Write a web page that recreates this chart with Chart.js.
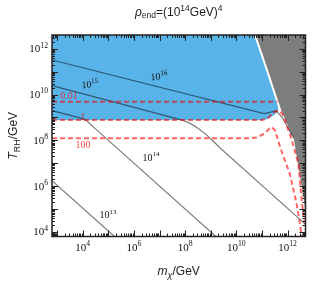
<!DOCTYPE html>
<html>
<head>
<meta charset="utf-8">
<script src="https://cdn.jsdelivr.net/npm/chart.js@4.4.1/dist/chart.umd.min.js"></script>
<style>
  html, body { margin: 0; padding: 0; background: #fff; }
</style>
</head>
<body>
<canvas id="myChart" width="312" height="283"></canvas>
<script>
// everything below is log10 of GeV
var xRange = [2.8, 12.7];
var yRange = [3.8, 12.6];
var xTickExp = [4, 6, 8, 10, 12];
var yTickExp = [4, 6, 8, 10, 12];

// excluded (gray) region edge and blue region lower edge
var grayEdgeM = [10.73, 11.2, 11.71, 12.21, 12.6, 12.7];
var grayEdgeT = [12.6, 11.05, 9.32, 8.01, 5.4, 4.5];
var blueEdgeM = [2.8, 11.0, 11.2, 11.45, 11.6, 11.66, 11.72];
var blueEdgeT = [8.89, 8.89, 8.92, 9.08, 9.25, 9.45, 9.8];

// contours (solid)
var c16M = [2.8, 11.08, 11.55, 11.78, 12.21];
var c16T = [11.51, 9.17, 9.28, 9.02, 8.15];
var c15M = [2.8, 7.92, 8.2, 8.5, 8.8, 9.1, 9.43, 12.7];
var c15T = [10.39, 8.87, 8.74, 8.53, 8.27, 7.96, 7.6, 4.33];
var c14M = [2.8, 3.97, 4.15, 4.3, 4.5, 9.2];
var c14T = [9.30, 8.96, 8.86, 8.7, 8.5, 3.8];
var c13M = [2.8, 5.24];
var c13T = [6.24, 3.8];

// dashed curves
var r001M = [2.8, 11.6];
var r001T = [9.69, 9.69];
var r1M = [2.8, 11.0, 11.2, 11.4, 11.55, 11.68, 11.8, 11.9, 12.16, 12.42, 12.55, 12.65];
var r1T = [8.89, 8.89, 8.94, 9.15, 9.28, 9.3, 9.15, 8.89, 8.02, 7.01, 5.4, 4.4];
var r100M = [2.8, 10.53, 10.8, 11.1, 11.3, 11.38, 11.5, 11.71, 12.1, 12.36, 12.49, 12.55];
var r100T = [8.09, 8.09, 8.12, 8.3, 8.52, 8.58, 8.45, 7.71, 6.49, 5.18, 4.3, 3.8];

// in-plot labels
var contourExp = [16, 15, 14, 13];
var contourLabM = [6.98, 4.28, 6.67, 4.99];
var contourLabT = [10.81, 10.46, 7.27, 4.74];
var ratioText = ['0.01', '1', '100'];
var ratioLabM = [3.46, 4.0, 4.01];
var ratioLabT = [9.94, 9.03, 7.8];

function pts(lm, lt) {
  return lm.map(function (m, i) { return { x: Math.pow(10, m), y: Math.pow(10, lt[i]) }; });
}

var RED = 'rgba(255,0,0,0.6)';
var LINE = 'rgba(0,0,0,0.5)';
var SERIF = '"Liberation Serif"';
var SANS = '"Liberation Sans"';

function drawRuns(ctx, runs, x, y, align) {
  var w = 0;
  runs.forEach(function (r) { ctx.font = r[1]; w += ctx.measureText(r[0]).width; });
  var cx = align === 'center' ? x - w / 2 : (align === 'right' ? x - w : x);
  runs.forEach(function (r) {
    ctx.font = r[1];
    ctx.fillText(r[0], cx, y + r[2]);
    cx += ctx.measureText(r[0]).width;
  });
}

function powRuns(e, size) {
  return [['10', size + 'px ' + SERIF, 0], [String(e), (size * 0.7) + 'px ' + SERIF, -size * 0.42]];
}

var axesPlugin = {
  id: 'axesPlugin',
  afterDraw: function (chart) {
    var ctx = chart.ctx, a = chart.chartArea;
    var xs = chart.scales.x, ys = chart.scales.y;
    ctx.save();
    ctx.textAlign = 'left';
    ctx.textBaseline = 'alphabetic';

    // inward ticks on all four sides
    ctx.strokeStyle = '#222';
    ctx.lineWidth = 1;
    ctx.beginPath();
    for (var n = Math.floor(xRange[0]); n <= Math.ceil(xRange[1]); n++) {
      for (var k = 1; k <= 9; k++) {
        var lv = n + Math.log10(k);
        if (lv < xRange[0] || lv > xRange[1]) continue;
        var px = Math.round(xs.getPixelForValue(Math.pow(10, lv))) + 0.5;
        var len = k === 1 ? 6 : 3;
        ctx.moveTo(px, a.bottom); ctx.lineTo(px, a.bottom - len);
        ctx.moveTo(px, a.top); ctx.lineTo(px, a.top + len);
      }
    }
    for (n = Math.floor(yRange[0]); n <= Math.ceil(yRange[1]); n++) {
      for (k = 1; k <= 9; k++) {
        lv = n + Math.log10(k);
        if (lv < yRange[0] || lv > yRange[1]) continue;
        var py = Math.round(ys.getPixelForValue(Math.pow(10, lv))) + 0.5;
        len = k === 1 ? 6 : 3;
        ctx.moveTo(a.left, py); ctx.lineTo(a.left + len, py);
        ctx.moveTo(a.right, py); ctx.lineTo(a.right - len, py);
      }
    }
    ctx.stroke();

    ctx.lineWidth = 1.5;
    ctx.strokeRect(a.left, a.top, a.right - a.left, a.bottom - a.top);

    // tick labels
    ctx.fillStyle = '#111';
    xTickExp.forEach(function (e) {
      drawRuns(ctx, powRuns(e, 11), xs.getPixelForValue(Math.pow(10, e)), a.bottom + 14, 'center');
    });
    yTickExp.forEach(function (e) {
      drawRuns(ctx, powRuns(e, 11), a.left - 4, ys.getPixelForValue(Math.pow(10, e)) + 3.5, 'right');
    });

    // contour labels
    contourExp.forEach(function (e, i) {
      var x = xs.getPixelForValue(Math.pow(10, contourLabM[i]));
      var y = ys.getPixelForValue(Math.pow(10, contourLabT[i]));
      ctx.save();
      ctx.translate(x, y);
      if (e >= 15) ctx.rotate(-0.08);
      drawRuns(ctx, powRuns(e, 10), 0, 3.5, 'center');
      ctx.restore();
    });
    ctx.fillStyle = 'rgba(255,0,0,0.72)';
    ratioText.forEach(function (t, i) {
      var x = xs.getPixelForValue(Math.pow(10, ratioLabM[i]));
      var y = ys.getPixelForValue(Math.pow(10, ratioLabT[i]));
      drawRuns(ctx, [[t, '10px ' + SERIF, 0]], x, y + 3.5, 'center');
    });

    // title and axis titles
    ctx.fillStyle = '#222';
    var cx = (a.left + a.right) / 2;
    drawRuns(ctx, [
      ['\u03c1', 'italic 12px ' + SANS, 0],
      ['end', '8.5px ' + SANS, 2.5],
      ['=(10', '12px ' + SANS, 0],
      ['14', '8.5px ' + SANS, -5],
      ['GeV)', '12px ' + SANS, 0],
      ['4', '8.5px ' + SANS, -5]
    ], cx, 15.5, 'center');
    drawRuns(ctx, [
      ['m', 'italic 12px ' + SANS, 0],
      ['\u03c7', 'italic 9px ' + SANS, 3],
      ['/GeV', '12px ' + SANS, 0]
    ], cx, 275, 'center');
    ctx.translate(17, (a.top + a.bottom) / 2);
    ctx.rotate(-Math.PI / 2);
    drawRuns(ctx, [
      ['T', 'italic 12px ' + SANS, 0],
      ['RH', '9px ' + SANS, 3],
      ['/GeV', '12px ' + SANS, 0]
    ], 0, 0, 'center');
    ctx.restore();
  }
};

function curve(data, color, width, order, dash) {
  return {
    data: data, borderColor: color, borderWidth: width, borderDash: dash || [],
    pointRadius: 0, fill: false, order: order, tension: 0
  };
}

new Chart('myChart', {
  type: 'line',
  data: {
    datasets: [
      { data: pts(blueEdgeM, blueEdgeT), backgroundColor: '#58b3e8', borderWidth: 0, pointRadius: 0, fill: 'end', order: 20 },
      { data: pts(grayEdgeM, grayEdgeT), backgroundColor: '#7d7d7d', borderWidth: 0, pointRadius: 0, fill: 'end', order: 19 },
      curve(pts(grayEdgeM, grayEdgeT), '#ffffff', 2, 18),
      curve(pts(c16M, c16T), LINE, 1.2, 10),
      curve(pts(c15M, c15T), LINE, 1.2, 10),
      curve(pts(c14M, c14T), LINE, 1.2, 10),
      curve(pts(c13M, c13T), LINE, 1.2, 10),
      curve(pts(r001M, r001T), RED, 2, 1, [5, 3]),
      curve(pts(r1M, r1T), RED, 2, 1, [5, 3]),
      curve(pts(r100M, r100T), RED, 2, 1, [5, 3])
    ]
  },
  options: {
    responsive: false,
    animation: false,
    layout: { padding: { left: 52, top: 35, right: 6.5, bottom: 46.5 } },
    plugins: { legend: { display: false }, tooltip: { enabled: false } },
    scales: {
      x: { type: 'logarithmic', min: Math.pow(10, xRange[0]), max: Math.pow(10, xRange[1]), display: false },
      y: { type: 'logarithmic', min: Math.pow(10, yRange[0]), max: Math.pow(10, yRange[1]), display: false }
    }
  },
  plugins: [axesPlugin]
});
</script>
</body>
</html>
